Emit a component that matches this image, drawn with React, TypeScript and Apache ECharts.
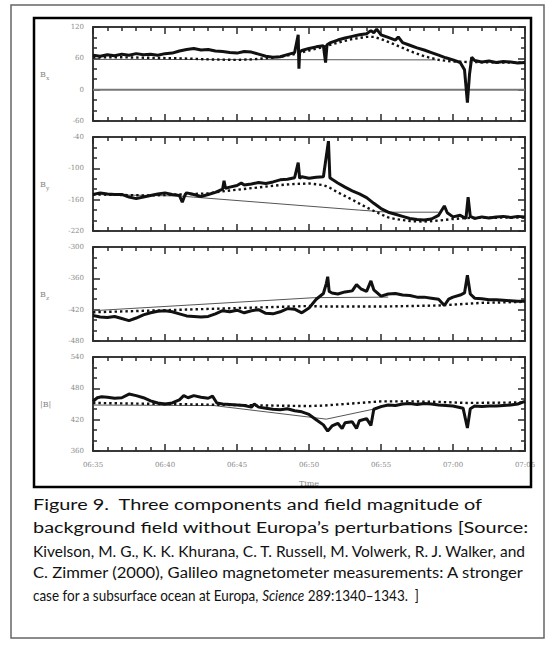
import React, { useEffect, useRef } from "react";
import * as echarts from "echarts";

// x values are minutes after 06:35
const xTickLabels = ["06:35", "06:40", "06:45", "06:50", "06:55", "07:00", "07:05"];
const panelNames = ["x", "y", "z", "|B|"];
const yMins = [-60, -220, -480, 360];
const yMaxs = [120, -40, -300, 540];

const bxObserved: [number, number][] = [
  [0, 66], [0.5, 64], [1, 67], [1.5, 65], [2, 68], [2.5, 66], [3, 69], [3.5, 67], [4, 68], [4.5, 66],
  [5, 69], [5.5, 70], [6, 74], [6.5, 77], [7, 79], [7.5, 76], [8, 77], [8.5, 74], [9, 73], [9.5, 71],
  [10, 70], [10.5, 73], [11, 72], [11.5, 68], [12, 64], [12.5, 62], [13, 63], [13.5, 67], [14, 71],
  [14.25, 105], [14.3, 40], [14.35, 72], [14.5, 75], [15, 79], [15.5, 82], [16, 84], [16.15, 52], [16.25, 86],
  [16.5, 90], [17, 95], [17.5, 99], [18, 102], [18.5, 105], [19, 107], [19.3, 113], [19.5, 109], [19.7, 116],
  [20, 105], [20.5, 100], [21, 95], [21.2, 101], [21.5, 90], [22, 85], [22.5, 80], [23, 76], [23.5, 71],
  [24, 66], [24.5, 61], [25, 57], [25.5, 52], [25.8, 38], [26, -25], [26.15, 30], [26.3, 62], [26.5, 56],
  [27, 53], [27.5, 55], [28, 52], [28.5, 54], [29, 53], [29.5, 51], [30, 52],
];
const bxModel: [number, number][] = [
  [0, 62], [2, 62], [4, 61], [6, 60], [8, 58], [10, 57], [11, 58], [12, 60], [13, 63], [14, 68], [15, 75],
  [16, 82], [17, 90], [18, 97], [19, 101], [19.5, 101], [20, 97], [21, 86], [22, 74], [23, 64], [24, 57],
  [25, 54], [26, 53], [28, 52], [30, 52],
];
const bxBackground: [number, number][] = [[0, 58], [23.8, 57]];
const bxZeroLine: [number, number][] = [[0, 0], [30, 0]];

const byObserved: [number, number][] = [
  [0, -150], [0.5, -147], [1, -149], [1.5, -150], [2, -150], [2.5, -155], [3, -158], [3.5, -155], [4, -152],
  [4.5, -149], [5, -147], [5.5, -150], [6, -152], [6.2, -165], [6.4, -150], [6.5, -147], [7, -150], [7.5, -154],
  [8, -150], [8.5, -146], [9, -140], [9.1, -124], [9.2, -138], [9.5, -136], [10, -133], [10.3, -128], [10.5, -132],
  [11, -130], [11.5, -127], [12, -129], [12.5, -126], [13, -122], [13.5, -121], [14, -118], [14.25, -89],
  [14.35, -119], [14.5, -116], [15, -119], [15.5, -117], [16, -116], [16.35, -48], [16.45, -118], [16.6, -121],
  [17, -128], [17.5, -136], [18, -143], [18.5, -149], [19, -156], [19.5, -167], [20, -177], [20.5, -184],
  [21, -188], [21.5, -192], [22, -196], [22.5, -198], [23, -199], [23.5, -197], [24, -190], [24.4, -172],
  [24.6, -185], [25, -193], [25.5, -190], [25.9, -196], [26.05, -155], [26.2, -192], [26.5, -196], [27, -193],
  [27.5, -195], [28, -193], [28.5, -192], [29, -194], [29.5, -192], [30, -193],
];
const byModel: [number, number][] = [
  [0, -150], [4, -152], [8, -148], [9, -144], [10, -141], [11, -138], [12, -135], [13, -132], [14, -130],
  [15, -129], [16, -132], [16.5, -138], [17, -146], [18, -160], [19, -175], [20, -188], [20.5, -194],
  [21, -197], [22, -201], [23, -202], [24, -200], [25, -197], [26, -195], [30, -194],
];
const byBackground: [number, number][] = [[0, -150], [6, -153], [18.5, -180], [20.5, -184], [24, -184]];

const bzObserved: [number, number][] = [
  [0, -431], [0.5, -434], [1, -435], [1.5, -433], [2, -437], [2.5, -441], [3, -436], [3.5, -430], [4, -426],
  [4.5, -423], [5, -422], [5.5, -424], [6, -428], [6.5, -432], [7, -433], [7.5, -434], [8, -433], [8.5, -428],
  [9, -422], [9.5, -424], [10, -421], [10.5, -426], [11, -422], [11.5, -420], [12, -427], [12.5, -428],
  [13, -424], [13.5, -418], [14, -419], [14.5, -426], [15, -417], [15.5, -400], [16, -389], [16.2, -370],
  [16.3, -357], [16.4, -385], [16.6, -388], [17, -390], [17.5, -386], [18, -384], [18.3, -372], [18.6, -380],
  [19, -385], [19.3, -365], [19.5, -382], [20, -394], [20.5, -390], [21, -389], [21.5, -392], [22, -393],
  [22.5, -396], [23, -396], [23.5, -398], [24, -400], [24.4, -412], [24.7, -400], [25, -396], [25.5, -392],
  [25.8, -388], [26, -354], [26.2, -390], [26.5, -398], [27, -399], [27.5, -401], [28, -401], [28.5, -402],
  [29, -403], [29.5, -404], [30, -404],
];
const bzModel: [number, number][] = [
  [0, -425], [5, -421], [10, -417], [15, -413], [16, -414], [20, -414], [24, -412], [27, -407], [30, -405],
];
const bzBackground: [number, number][] = [[0, -422], [15.4, -397], [20.5, -396]];

const bmObserved: [number, number][] = [
  [0, 455], [0.3, 462], [0.6, 464], [1, 463], [1.5, 461], [2, 462], [2.5, 469], [3, 466], [3.5, 462],
  [4, 456], [4.5, 452], [5, 450], [5.5, 452], [6, 458], [6.3, 466], [6.6, 462], [7, 466], [7.5, 463],
  [8, 461], [8.3, 465], [8.6, 452], [9, 450], [9.5, 449], [10, 448], [10.5, 447], [11, 444], [11.2, 450],
  [11.5, 444], [12, 442], [12.5, 440], [13, 439], [13.5, 441], [14, 437], [14.5, 435], [15, 430], [15.5, 420],
  [16, 410], [16.3, 398], [16.6, 408], [17, 413], [17.3, 403], [17.5, 414], [18, 416], [18.3, 403],
  [18.5, 418], [19, 422], [19.3, 409], [19.5, 440], [20, 445], [20.5, 448], [21, 447], [21.5, 450],
  [22, 451], [22.5, 449], [23, 451], [23.5, 450], [24, 448], [24.5, 447], [25, 446], [25.7, 442], [26, 404],
  [26.2, 441], [26.5, 446], [27, 445], [27.5, 446], [28, 446], [28.5, 447], [29, 448], [29.5, 450], [30, 455],
];
const bmModel: [number, number][] = [
  [0, 452], [5, 450], [10, 448], [15, 446], [16, 447], [17, 449], [18, 451], [19, 453], [20, 455],
  [22, 455], [24, 454], [26, 452], [30, 453],
];
const bmBackground: [number, number][] = [[0, 448], [8.4, 447], [16.2, 421], [19.8, 442]];

const captionLines = [
  "Figure 9.  Three components and field magnitude of",
  "background field without Europa\u2019s perturbations [Source:",
  "Kivelson, M. G., K. K. Khurana, C. T. Russell, M. Volwerk, R. J. Walker, and",
  "C. Zimmer (2000), Galileo magnetometer measurements: A stronger",
];
const captionLast = ["case for a subsurface ocean at Europa, ", "Science", " 289:1340\u20131343.  ]"];
const xAxisTitle = "Time";

const observed = [bxObserved, byObserved, bzObserved, bmObserved];
const models = [bxModel, byModel, bzModel, bmModel];
const backgrounds = [bxBackground, byBackground, bzBackground, bmBackground];

const GRID_LEFT = 93;
const GRID_W = 432;
const GRID_TOPS = [27, 137, 247, 357];
const GRID_H = 94;
const CAP_FONT = "Lato, 'Open Sans', sans-serif";
const CAP_SIZE = 16;
const CAP_X = 33;
const CAP_ENDS = [0, 529, 527, 525, 419];
const CAP_YS = [504, 527, 550, 572, 595];
const TICK_COLOR = "#2a2a2a";
const LABEL_FONT = "'DejaVu Serif', 'Liberation Serif', serif";

function measure(text: string, italic = false): number {
  const c = document.createElement("canvas").getContext("2d");
  if (!c) return text.length * 7;
  c.font = `${italic ? "italic " : ""}${CAP_SIZE}px ${CAP_FONT}`;
  return c.measureText(text).width;
}

export default function App() {
  const ref = useRef<HTMLDivElement>(null);
  useEffect(() => {
    if (!ref.current) return;
    const chart = echarts.init(ref.current, null, { renderer: "svg" });
    const grids = GRID_TOPS.map((top) => ({ left: GRID_LEFT, top, width: GRID_W, height: GRID_H }));
    const mkLine = () => ({ show: true, onZero: false, lineStyle: { color: "#3a3a3a", width: 2 } });
    const tick = () => ({ show: true, inside: true, length: 7, lineStyle: { color: TICK_COLOR, width: 1.5 } });
    const minor = (n: number) => ({ show: true, splitNumber: n, length: 4, lineStyle: { color: TICK_COLOR, width: 1.5 } });

    const xAxes: any[] = [];
    const yAxes: any[] = [];
    const series: any[] = [];
    for (let i = 0; i < 4; i++) {
      xAxes.push({
        type: "value", gridIndex: i, min: 0, max: 30, interval: 5,
        axisLine: mkLine(), axisTick: tick(), minorTick: minor(5), splitLine: { show: false },
        axisLabel: { show: i === 3, fontSize: 7, color: "#8a8a8a", fontFamily: LABEL_FONT, margin: 10,
          formatter: (v: number) => xTickLabels[Math.round(v / 5)] ?? "" },
      });
      yAxes.push({
        type: "value", gridIndex: i, min: yMins[i], max: yMaxs[i], interval: 60,
        axisLine: mkLine(), axisTick: tick(), minorTick: minor(3), splitLine: { show: false },
        axisLabel: { show: true, fontSize: 7, color: "#8a8a8a", fontFamily: LABEL_FONT, margin: 9 },
      });
    }
    for (let i = 0; i < 4; i++) {
      xAxes.push({
        type: "value", gridIndex: i, min: 0, max: 30, interval: 5, position: "top",
        axisLine: mkLine(), axisTick: tick(), minorTick: minor(5), splitLine: { show: false },
        axisLabel: { show: false },
      });
      yAxes.push({
        type: "value", gridIndex: i, min: yMins[i], max: yMaxs[i], interval: 60, position: "right",
        axisLine: mkLine(), axisTick: tick(), minorTick: minor(3), splitLine: { show: false },
        axisLabel: { show: false },
      });
    }
    series.push({
      type: "line", name: "zero", xAxisIndex: 0, yAxisIndex: 0, data: bxZeroLine,
      showSymbol: false, lineStyle: { color: "#777", width: 2 },
    });
    for (let i = 0; i < 4; i++) {
      series.push({
        type: "line", name: `bg${i}`, xAxisIndex: i, yAxisIndex: i, data: backgrounds[i],
        showSymbol: false, lineStyle: { color: "#555", width: 1 },
      });
      series.push({
        type: "line", name: `obs${i}`, xAxisIndex: i, yAxisIndex: i, data: observed[i],
        showSymbol: false, lineStyle: { color: "#111", width: 3 },
      });
      series.push({
        type: "line", name: `model${i}`, xAxisIndex: i, yAxisIndex: i, data: models[i],
        showSymbol: false, lineStyle: { color: "#111", width: 2.4, type: [2.4, 3] },
      });
    }

    const graphic: any[] = [
      { type: "rect", shape: { x: 11, y: 5, width: 533, height: 633 },
        style: { fill: "none", stroke: "#666", lineWidth: 1.5 }, z: 100 },
      { type: "rect", shape: { x: 34, y: 18, width: 497, height: 469 },
        style: { fill: "none", stroke: "#000", lineWidth: 2.5 }, z: 100 },
      { type: "text", x: GRID_LEFT + GRID_W / 2, y: 483,
        style: { text: xAxisTitle, fontSize: 8, fill: "#888", fontFamily: LABEL_FONT,
          textAlign: "center", textVerticalAlign: "middle" } },
    ];
    GRID_TOPS.forEach((top, i) => {
      const cy = top + GRID_H / 2;
      if (i < 3) {
        graphic.push({ type: "text", x: 40, y: cy, style: { text: "B", fontSize: 8, fill: "#888",
          fontFamily: LABEL_FONT, textVerticalAlign: "middle" } });
        graphic.push({ type: "text", x: 46, y: cy + 3, style: { text: panelNames[i], fontSize: 6, fill: "#888",
          fontFamily: LABEL_FONT, textVerticalAlign: "middle" } });
      } else {
        graphic.push({ type: "text", x: 40, y: cy, style: { text: panelNames[i], fontSize: 8, fill: "#888",
          fontFamily: LABEL_FONT, textVerticalAlign: "middle" } });
      }
    });
    const sTop = (CAP_ENDS[1] - CAP_X) / measure(captionLines[1]);
    captionLines.forEach((line, i) => {
      const s = i < 2 ? sTop : (CAP_ENDS[i] - CAP_X) / measure(line);
      graphic.push({
        type: "text", x: CAP_X, y: CAP_YS[i], scaleX: s,
        style: { text: line, fontSize: CAP_SIZE, fontFamily: CAP_FONT, fill: "#111", textVerticalAlign: "middle" },
      });
    });
    const wLast = measure(captionLast[0]) + measure(captionLast[1], true) + measure(captionLast[2]);
    graphic.push({
      type: "text", x: CAP_X, y: CAP_YS[4], scaleX: (CAP_ENDS[4] - CAP_X) / wLast,
      style: {
        text: `{n|${captionLast[0]}}{i|${captionLast[1]}}{n|${captionLast[2]}}`,
        fontSize: CAP_SIZE, fontFamily: CAP_FONT, fill: "#111", textVerticalAlign: "middle",
        rich: {
          n: { fontSize: CAP_SIZE, fontFamily: CAP_FONT, fill: "#111" },
          i: { fontSize: CAP_SIZE, fontFamily: CAP_FONT, fill: "#111", fontStyle: "italic" },
        },
      },
    });

    chart.setOption({ animation: false, grid: grids, xAxis: xAxes, yAxis: yAxes, series, graphic });
    return () => chart.dispose();
  }, []);
  return <div ref={ref} style={{ position: "fixed", left: 0, top: 0, width: 555, height: 645, background: "#fff" }} />;
}
